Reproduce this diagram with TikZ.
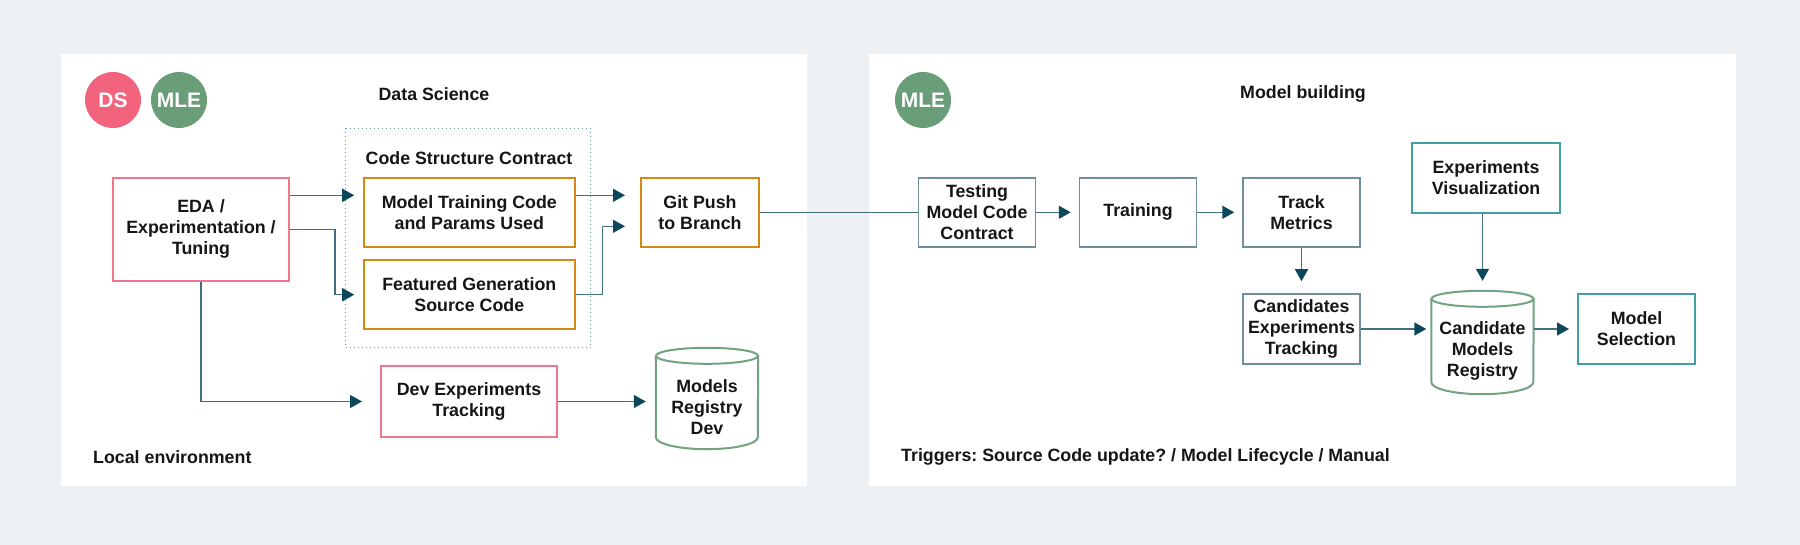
\documentclass[tikz,border=0pt]{standalone}
\usepackage{fontspec}
\setmainfont{Liberation Sans}
\frenchspacing
\usepackage{xcolor}
\definecolor{ColBack}{RGB}{237,241,244}
\definecolor{ColText}{RGB}{22,22,22}
\definecolor{ColPink}{RGB}{242,99,125}
\definecolor{ColPinkLine}{RGB}{242,119,141}
\definecolor{ColGreen}{RGB}{106,158,120}
\definecolor{ColGreenLine}{RGB}{112,163,126}
\definecolor{ColOrange}{RGB}{212,137,20}
\definecolor{ColGray}{RGB}{110,143,155}
\definecolor{ColTeal}{RGB}{64,160,168}
\definecolor{ColLine}{RGB}{66,110,125}
\definecolor{ColHead}{RGB}{12,72,92}
\definecolor{ColDot}{RGB}{110,150,160}
\usepackage{tikz}
\usetikzlibrary{arrows.meta}
\newcommand{\BoxFont}{\fontsize{17.8}{21}\selectfont\bfseries}
\tikzstyle{Box}=[rectangle,draw,fill=white,inner sep=0pt,align=center,
minimum height=69pt,font=\BoxFont,text=ColText]
\tikzstyle{DSBox}=[Box,draw=ColPinkLine,line width=2pt]
\tikzstyle{CodeBox}=[Box,draw=ColOrange,line width=2pt]
\tikzstyle{StepBox}=[Box,draw=ColGray,line width=1.5pt,minimum width=117pt]
\tikzstyle{TealBox}=[Box,draw=ColTeal,line width=2pt,minimum height=70pt]
\tikzstyle{Store}=[rectangle,inner sep=0pt,align=center,minimum width=102pt,
minimum height=84pt,font=\BoxFont,text=ColText]
\tikzstyle{StoreEdge}=[draw=ColGreenLine,line width=2pt]
\tikzstyle{Badge}=[circle,minimum size=56pt,inner sep=0pt,text=white,
font=\fontsize{21}{24}\selectfont\bfseries]
\tikzstyle{Title}=[font=\BoxFont,text=ColText,inner sep=0pt]
\tikzstyle{Group}=[rectangle,draw=ColDot,line width=1pt,
dash pattern=on 1pt off 3pt,minimum width=245pt,minimum height=219pt]
\tikzstyle{Edge}=[draw=ColLine,line width=1.5pt,shorten >=8pt,
-{Triangle[length=12pt,width=13pt,color=ColHead]}]
\tikzstyle{Link}=[draw=ColLine,line width=1.5pt]

\begin{document}
\begin{tikzpicture}[x=1pt,y=-1pt]
        \useasboundingbox(0,0)rectangle(1800,545);
        \fill[ColBack](0,0)rectangle(1800,545);
        \fill[white](61,54)rectangle(807,486);
        \fill[white](869,54)rectangle(1736,486);
        % local environment
        \node[Badge,fill=ColPink](b1)at(113,100){DS};
        \node[Badge,fill=ColGreen](b2)at(179,100){MLE};
        \node[Title](t1)at(434,94){Data Science};
        \node[Title,anchor=west](t3)at(93,457){Local environment};
        \node[Group](g)at(468,238.4){};
        \node[Title](t5)at(469,158){Code Structure Contract};
        \node[DSBox,minimum width=176pt,minimum height=103pt](1)at(201,229.3)
            {EDA /\\Experimentation /\\Tuning};
        \node[CodeBox,minimum width=211pt](2)at(469.3,212.3)
            {Model Training Code\\and Params Used};
        \node[CodeBox,minimum width=211pt](3)at(469.3,294.7)
            {Featured Generation\\Source Code};
        \node[CodeBox,minimum width=118pt](4)at(700,212.3){Git Push\\to Branch};
        \node[DSBox,minimum width=176pt,minimum height=71pt](5)at(469,401.5)
            {Dev Experiments\\Tracking};
        \node[Store](6)at(707,407){Models\\Registry\\Dev};
        \draw[StoreEdge]([yshift=9pt]6.north)ellipse(51pt and 8pt);
        \draw[StoreEdge]([yshift=9pt]6.north west)--([yshift=12pt]6.south west)
            arc(180:360:51pt and 12pt)--([yshift=9pt]6.north east);
        % model building
        \node[Badge,fill=ColGreen](b3)at(923,100){MLE};
        \node[Title](t2)at(1303,94){Model building};
        \node[Title,anchor=west](t4)at(901,457)
            {Triggers: Source Code update? / Model Lifecycle / Manual};
        \node[StepBox](7)at(977,212.3){Testing\\Model Code\\Contract};
        \node[StepBox](8)at(1138,212.3){Training};
        \node[StepBox](9)at(1301.5,212.3){Track\\Metrics};
        \node[TealBox,minimum width=148pt](10)at(1486,177.7)
            {Experiments\\Visualization};
        \node[StepBox,minimum height=70pt](11)at(1301.5,329)
            {Candidates\\Experiments\\Tracking};
        \node[Store,minimum height=86pt](12)at(1482.5,351)
            {Candidate\\Models\\Registry};
        \draw[StoreEdge]([yshift=9pt]12.north)ellipse(51pt and 8pt);
        \draw[StoreEdge]([yshift=9pt]12.north west)--([yshift=12pt]12.south west)
            arc(180:360:51pt and 12pt)--([yshift=9pt]12.north east);
        \coordinate(12t)at([yshift=17pt]12.north);
        \node[TealBox,minimum width=117pt](13)at(1636.5,329){Model\\Selection};
        % connectors
        \draw[Edge,shorten >=8.6pt]([yshift=34pt]1.east)--([yshift=17pt]2.west);
        \draw[Edge,shorten >=8.6pt](1.east)--++(45,0)|-(3.west);
        \draw[Edge,shorten >=15pt]([yshift=17pt]2.east)--([yshift=17pt]4.west);
        \draw[Edge,shorten >=15pt](3.east)--++(26.6,0)|-([yshift=-14pt]4.west);
        \draw[Edge,shorten >=18pt](1.south)|-(5.west);
        \draw[Edge,shorten >=10pt](5.east)--(5.east-|6.west);
        \draw[Link](4.east)--(7.west);
        \draw[Edge](7)--(8);
        \draw[Edge](8)--(9);
        \draw[Edge,shorten >=12pt](9)--(11);
        \draw[Edge,shorten >=10pt](10.south-|12t)--(12t);
        \draw[Edge,shorten >=5pt](11.east)--(11.east-|12.west);
        \draw[Edge](12.east|-13.west)--(13.west);
    \end{tikzpicture}
\end{document}
